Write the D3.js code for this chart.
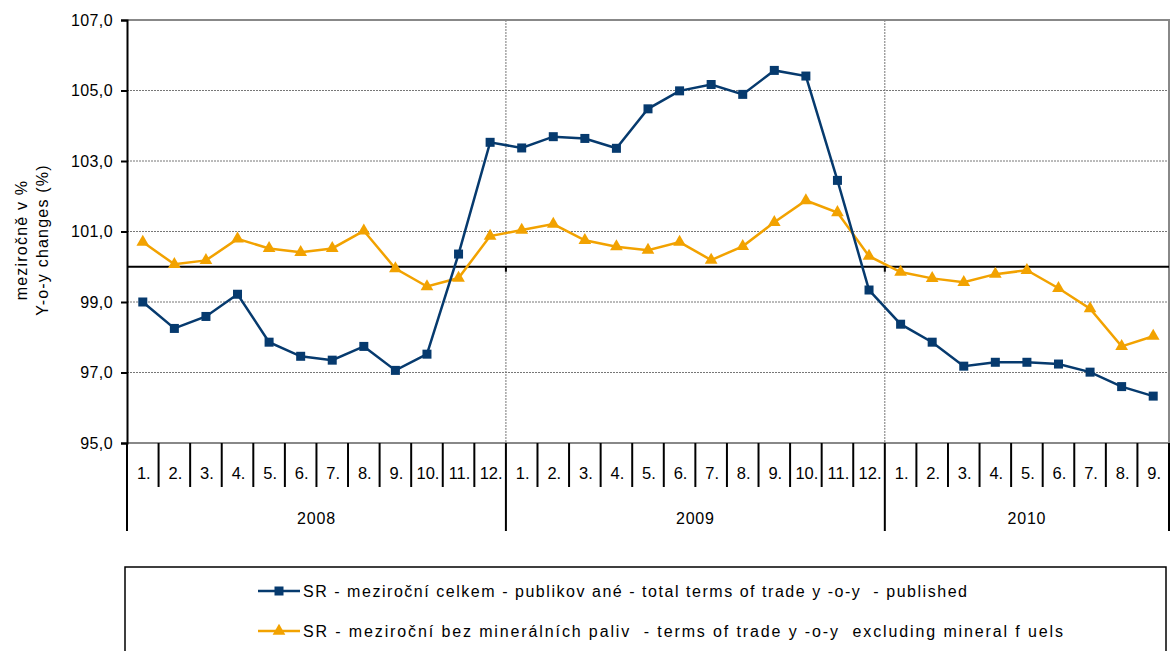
<!DOCTYPE html>
<html>
<head>
<meta charset="utf-8">
<script src="https://cdn.jsdelivr.net/npm/d3@7"></script>
<style>
  body { margin: 0; background: #fff; }
  svg { font-family: Arial, "Liberation Sans", sans-serif; }
</style>
</head>
<body>
<svg id="chart" width="1172" height="651"></svg>
<script>
// chart data
var years = ["2008", "2009", "2010"];
var monthsPerYear = [12, 12, 9];
var yTicks = [95, 97, 99, 101, 103, 105, 107];

// SR - total terms of trade y-o-y - published
var totalPublished = [
  99.0, 98.25, 98.59, 99.22, 97.86, 97.46, 97.35, 97.74, 97.06, 97.52, 100.36, 103.53,
  103.37, 103.69, 103.64, 103.36, 104.48, 104.99, 105.17, 104.89, 105.57, 105.41, 102.45, 99.34,
  98.37, 97.86, 97.18, 97.29, 97.29, 97.24, 97.01, 96.6, 96.33
];
// SR - terms of trade y-o-y excluding mineral fuels
var exclFuels = [
  100.7, 100.07, 100.18, 100.79, 100.52, 100.41, 100.52, 101.02, 99.95, 99.44, 99.68, 100.87,
  101.04, 101.21, 100.75, 100.57, 100.47, 100.7, 100.19, 100.58, 101.26, 101.88, 101.54, 100.3,
  99.85, 99.67, 99.56, 99.79, 99.9, 99.39, 98.81, 97.74, 98.03
];

var seriesNames = [
  "SR - meziroční celkem - publikov ané - total terms of trade y -o-y  - published",
  "SR - meziroční bez minerálních paliv  - terms of trade y -o-y  excluding mineral f uels"
];

var BLUE = "#063A6E";
var ORANGE = "#F2A200";

// build category list (year, month)
var cats = [];
years.forEach(function (yr, i) {
  for (var m = 1; m <= monthsPerYear[i]; m++) cats.push({ year: yr, month: m, key: yr + "-" + m });
});

var svg = d3.select("#chart");
var plotLeft = 127, plotRight = 1169, plotTop = 20, plotBottom = 443;

var x = d3.scaleBand().domain(cats.map(function (d) { return d.key; })).range([plotLeft, plotRight]);
var y = d3.scaleLinear().domain([95, 107]).range([plotBottom, plotTop]);

var fmt = function (v) { return d3.format(".1f")(v).replace(".", ","); };

// horizontal gridlines (dotted)
svg.append("g")
  .selectAll("line")
  .data(yTicks.filter(function (t) { return t > 95 && t < 107; }))
  .join("line")
  .attr("x1", plotLeft).attr("x2", plotRight)
  .attr("y1", function (d) { return y(d); }).attr("y2", function (d) { return y(d); })
  .attr("stroke", "#777").attr("stroke-width", 1).attr("stroke-dasharray", "2,1");

// vertical gridlines at year boundaries
var yearStarts = cats.filter(function (d) { return d.month === 1 && d.year !== years[0]; });
svg.append("g")
  .selectAll("line")
  .data(yearStarts)
  .join("line")
  .attr("x1", function (d) { return x(d.key); }).attr("x2", function (d) { return x(d.key); })
  .attr("y1", plotTop).attr("y2", plotBottom)
  .attr("stroke", "#777").attr("stroke-width", 1).attr("stroke-dasharray", "2,1");

// plot frame top/right/bottom (grey)
svg.append("path")
  .attr("d", "M" + plotLeft + "," + plotTop + "H" + plotRight + "V" + plotBottom + "H" + plotLeft)
  .attr("fill", "none").attr("stroke", "#888").attr("stroke-width", 2);

// y axis
var yAxis = svg.append("g")
  .attr("transform", "translate(" + plotLeft + ",0)")
  .call(d3.axisLeft(y).tickValues(yTicks).tickFormat(fmt).tickSize(6).tickPadding(8));
yAxis.select(".domain").attr("stroke", "#000").attr("stroke-width", 2);
yAxis.selectAll(".tick line").attr("stroke", "#000").attr("stroke-width", 2);
yAxis.selectAll("text").attr("font-size", 16).attr("letter-spacing", 0.4).attr("fill", "#000");

// line at 100 with small ticks at year boundaries
svg.append("line")
  .attr("x1", plotLeft).attr("x2", plotRight)
  .attr("y1", y(100)).attr("y2", y(100))
  .attr("stroke", "#000").attr("stroke-width", 2);
svg.append("g")
  .selectAll("line")
  .data(yearStarts)
  .join("line")
  .attr("x1", function (d) { return x(d.key); }).attr("x2", function (d) { return x(d.key); })
  .attr("y1", y(100)).attr("y2", y(100) + 5)
  .attr("stroke", "#000").attr("stroke-width", 2);

// category axis: month separators and labels
var catG = svg.append("g");
catG.selectAll("line.m")
  .data(cats.slice(1))
  .join("line")
  .attr("class", "m")
  .attr("x1", function (d) { return x(d.key); }).attr("x2", function (d) { return x(d.key); })
  .attr("y1", plotBottom).attr("y2", function (d) { return d.month === 1 ? 531 : 487; })
  .attr("stroke", "#000").attr("stroke-width", 2);
catG.selectAll("line.edge")
  .data([plotLeft, plotRight])
  .join("line")
  .attr("class", "edge")
  .attr("x1", function (d) { return d; }).attr("x2", function (d) { return d; })
  .attr("y1", plotBottom).attr("y2", 531)
  .attr("stroke", "#000").attr("stroke-width", 2);
catG.selectAll("text.m")
  .data(cats)
  .join("text")
  .attr("class", "m")
  .attr("x", function (d) { return x(d.key) + x.bandwidth() / 2 + 1; })
  .attr("y", 479)
  .attr("text-anchor", "middle")
  .attr("font-size", 16.5)
  .text(function (d) { return d.month + "."; });

// year labels
var yearCenters = years.map(function (yr) {
  var c = cats.filter(function (d) { return d.year === yr; });
  var x0 = x(c[0].key), x1 = x(c[c.length - 1].key) + x.bandwidth();
  return { year: yr, cx: (x0 + x1) / 2 };
});
catG.selectAll("text.yr")
  .data(yearCenters)
  .join("text")
  .attr("class", "yr")
  .attr("x", function (d) { return d.cx; })
  .attr("y", 524)
  .attr("text-anchor", "middle")
  .attr("font-size", 16)
  .attr("letter-spacing", 0.8)
  .text(function (d) { return d.year; });

// y title
var yTitle = svg.append("text")
  .attr("transform", "translate(27,240) rotate(-90)")
  .attr("text-anchor", "middle")
  .attr("font-size", 16)
  .attr("letter-spacing", 1.2);
yTitle.append("tspan").attr("x", 0).attr("dy", 0).text("meziročně v %");
yTitle.append("tspan").attr("x", 0).attr("dy", 21).text("Y-o-y changes (%)");

// series lines
var line = d3.line()
  .x(function (d, i) { return x(cats[i].key) + x.bandwidth() / 2; })
  .y(function (d) { return y(d); });

svg.append("path").datum(exclFuels)
  .attr("d", line).attr("fill", "none").attr("stroke", ORANGE).attr("stroke-width", 2.5);
svg.append("path").datum(totalPublished)
  .attr("d", line).attr("fill", "none").attr("stroke", BLUE).attr("stroke-width", 2.5);

var tri = d3.symbol().type(d3.symbolTriangle).size(70);
svg.append("g").selectAll("path")
  .data(exclFuels)
  .join("path")
  .attr("d", tri)
  .attr("transform", function (d, i) {
    return "translate(" + (x(cats[i].key) + x.bandwidth() / 2) + "," + y(d) + ")";
  })
  .attr("fill", ORANGE);

svg.append("g").selectAll("rect")
  .data(totalPublished)
  .join("rect")
  .attr("x", function (d, i) { return x(cats[i].key) + x.bandwidth() / 2 - 4.5; })
  .attr("y", function (d) { return y(d) - 4.5; })
  .attr("width", 9).attr("height", 9)
  .attr("fill", BLUE);

// legend
var legend = svg.append("g");
legend.append("rect")
  .attr("x", 125).attr("y", 567).attr("width", 1041).attr("height", 100)
  .attr("fill", "none").attr("stroke", "#000").attr("stroke-width", 1.5);

var legendItems = [
  { name: seriesNames[0], color: BLUE, marker: "square", cy: 591, len: 664 },
  { name: seriesNames[1], color: ORANGE, marker: "triangle", cy: 631, len: 760 }
];
legendItems.forEach(function (it) {
  legend.append("line")
    .attr("x1", 258).attr("x2", 300).attr("y1", it.cy).attr("y2", it.cy)
    .attr("stroke", it.color).attr("stroke-width", 2.5);
  if (it.marker === "square") {
    legend.append("rect").attr("x", 274.5).attr("y", it.cy - 4.5)
      .attr("width", 9).attr("height", 9).attr("fill", it.color);
  } else {
    legend.append("path").attr("d", tri)
      .attr("transform", "translate(279," + it.cy + ")").attr("fill", it.color);
  }
  legend.append("text")
    .attr("x", 303).attr("y", it.cy + 6)
    .attr("font-size", 16)
    .attr("textLength", it.len)
    .attr("lengthAdjust", "spacing")
    .style("white-space", "pre")
    .text(it.name);
});
</script>
</body>
</html>
